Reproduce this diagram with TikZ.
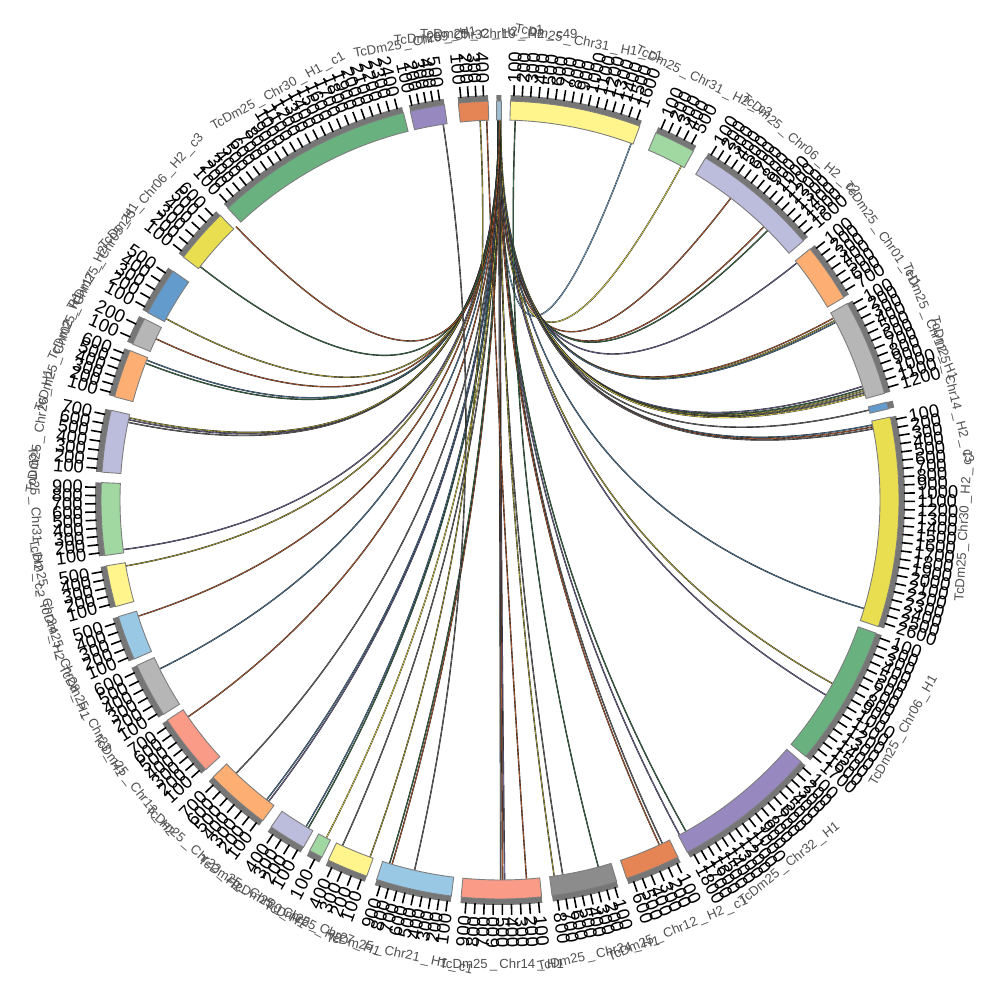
\documentclass[tikz,border=0pt]{standalone}
\usepackage{fontspec}
\setmainfont{Liberation Sans}
\usepackage{tikz}
\newcommand{\us}{\,\_\,}
\definecolor{yelL}{RGB}{255, 245, 140}
\definecolor{yelD}{RGB}{232, 222, 80}
\definecolor{grnL}{RGB}{161, 215, 160}
\definecolor{grnD}{RGB}{105, 178, 128}
\definecolor{lav}{RGB}{188, 188, 220}
\definecolor{pur}{RGB}{152, 136, 192}
\definecolor{oraL}{RGB}{253, 175, 115}
\definecolor{oraD}{RGB}{229, 132, 85}
\definecolor{gryL}{RGB}{182, 182, 182}
\definecolor{gryD}{RGB}{140, 140, 140}
\definecolor{blu}{RGB}{100, 155, 205}
\definecolor{bluL}{RGB}{152, 200, 228}
\definecolor{sal}{RGB}{250, 155, 135}
\definecolor{sliv}{RGB}{160, 190, 212}
\definecolor{gband}{RGB}{118, 118, 118}
\definecolor{gedge}{RGB}{125, 125, 125}
\definecolor{gtext}{RGB}{80, 80, 80}
\definecolor{lnkA}{RGB}{190, 95, 50}
\definecolor{lnkB}{RGB}{60, 115, 75}
\definecolor{lnkC}{RGB}{180, 170, 60}
\definecolor{lnkD}{RGB}{80, 125, 160}
\definecolor{lnkE}{RGB}{115, 105, 155}
\definecolor{lnkF}{RGB}{110, 110, 110}
\definecolor{lnkG}{RGB}{235, 222, 80}
\definecolor{lnkH}{RGB}{125, 175, 215}
\tikzstyle{ideo} = [draw=gedge, line width=0.5pt]
\tikzstyle{tickmark} = [draw=black, line width=0.9pt]
\tikzstyle{ticklabel} = [inner sep=0pt, text=black, font=\fontsize{10.5}{10.5}\selectfont]
\tikzstyle{secname} = [inner sep=0pt, text=gtext, font=\fontsize{7.5}{7.5}\selectfont]
\tikzstyle{lnk} = [draw=black!90, line width=0.22pt, double distance=0.35pt]

\begin{document}
\begin{tikzpicture}[x=0.02cm, y=0.02cm]
\useasboundingbox (-500,-500) rectangle (500,500);

% links ======================================
\foreach \pa/\pb/\lc in {69.8/90.2/lnkH, 61.5/90.0/lnkG, 52.6/90.3/lnkA, 46/90.1/lnkA, 45.2/89.9/lnkB,
  38.6/90.2/lnkE, 28.6/90.0/lnkA, 28.2/90.1/lnkC, 27.9/90.2/lnkD, 17.4/90.0/lnkE, 17.0/90.1/lnkB,
  16.7/90.2/lnkC, 16.4/90.3/lnkF, 16.1/89.9/lnkG, 13.7/90.1/lnkF, 11.4/90.0/lnkD, 11.1/90.2/lnkA,
  10.8/90.3/lnkF, -16.6/90.1/lnkD, -28.9/90.0/lnkC, -30.9/90.2/lnkE, -60.7/90.1/lnkB, -61.8/90.3/lnkE,
  -64.7/90.0/lnkF, -65.2/90.2/lnkA, -80.5/90.2/lnkF, -81.8/90.0/lnkC, -89.3/90.0/lnkE, -89.6/90.1/lnkA,
  -89.9/90.2/lnkF, -106.5/90.0/lnkA, -106.9/90.2/lnkB, -114.5/90.1/lnkF, -117.2/90.0/lnkG,
  -120.3/90.1/lnkB, -120.7/90.3/lnkD, -127.5/90.0/lnkE, -127.9/90.2/lnkD, -134.0/90.1/lnkF,
  -145.2/90.0/lnkA, -153.6/90.1/lnkD, -162.2/90.2/lnkA, -170.0/90.0/lnkC, 187.5/90.1/lnkE,
  168.2/90.0/lnkF, 167.8/90.2/lnkE, 167.5/90.1/lnkC, 158.9/90.0/lnkB, 158.4/90.2/lnkD,
  154.9/90.1/lnkA, 151.5/90.0/lnkC, 142.1/90.2/lnkB, 134.0/90.1/lnkA, 98.6/-103/lnkF,
  93.0/-110/lnkC, 92.0/-86/lnkA, 87.7/-75/lnkB}
  \draw[lnk, double=\lc] (\pa:380) .. controls (\pa:126.7) and (\pb:126.7) .. (\pb:380);

% sectors, ticks and names ===================
\foreach \s/\e/\col/\nt/\secn in {
  90.5/89.8/sliv/0/TcDm25\us Chr19\us H2\us c49,
  88.5/69.5/yelL/16/TcDm25\us Chr31\us H1\us c1,
  67/61/grnL/5/TcDm25\us Chr31\us H2\us c3,
  59/40.5/lav/16/TcDm25\us Chr06\us H2\us c2,
  39/30.5/oraL/7/TcDm25\us Chr01\us H1,
  29.5/15.5/gryL/12/TcDm25\us Chr12\us H1,
  14.2/13.2/blu/0/TcDm25\us Chr14\us H2\us c3,
  12/-18.5/yelD/26/TcDm25\us Chr30\us H2\us c1,
  -19.5/-40/grnD/17/TcDm25\us Chr06\us H1,
  -41/-62/pur/18/TcDm25\us Chr32\us H1,
  -63.5/-71.5/oraD/6/TcDm25\us Chr12\us H2\us c1,
  -73/-82.5/gryD/8/TcDm25\us Chr24\us H1,
  -84/-95.6/sal/9/TcDm25\us Chr14\us H1,
  -97/-108/bluL/9/TcDm25\us Chr21\us H1\us c1,
  -109.5/-115.5/yelL/4/TcDm25\us Chr27\us H1,
  -116.5/-118.5/grnL/1/TcDm25\us Chr25\us H2,
  -119.5/-125/lav/4/TcDm25\us Chr20\us H1,
  -126.5/-136/oraL/7/TcDm25\us Chr22\us H2,
  -137.5/-146.5/sal/7/TcDm25\us Chr13\us H2,
  -147.5/-155.5/gryL/6/TcDm25\us Chr23\us H1,
  -156.5/-163/bluL/5/TcDm25\us Chr28\us H1,
  -164.5/-170.5/yelL/5/TcDm25\us Chr24\us H2,
  188/177.5/grnL/9/TcDm25\us Chr31\us H2\us c2,
  176/167/lav/7/TcDm25\us Chr26\us H1,
  165/158/oraL/6/TcDm25\us Chr02\us H1,
  157/153/gryL/2/TcDm25\us Chr17\us H2,
  152/145/blu/5/TcDm25\us Chr05\us H1,
  142.5/134.5/yelD/6/TcDm25\us Chr06\us H2\us c3,
  133/104/grnD/24/TcDm25\us Chr30\us H1\us c1,
  103/98/pur/5/TcDm25\us Chr09\us H1,
  96/91.7/oraD/4/TcDm25\us Chr32\us H2\us c1}
{
  \fill[gband] (\s:399) arc[start angle=\s, end angle=\e, radius=399] -- (\e:405)
    arc[start angle=\e, end angle=\s, radius=405] -- cycle;
  \path[ideo, fill=\col] (\s:380) arc[start angle=\s, end angle=\e, radius=380] -- (\e:399)
    arc[start angle=\e, end angle=\s, radius=399] -- cycle;
  \ifnum\nt>0
  \foreach \k in {1,...,\nt}{
    \pgfmathsetmacro\ta{\s-(\k-0.6)*(\s-\e)/\nt}
    \pgfmathtruncatemacro\lab{100*\k}
    \pgfmathsetmacro\ct{cos(\ta)}
    \draw[tickmark] (\ta:404) -- (\ta:415);
    \ifdim\ct pt<0pt
      \node[ticklabel, anchor=east, rotate=\ta+180] at (\ta:417) {\lab};
    \else
      \node[ticklabel, anchor=west, rotate=\ta] at (\ta:417) {\lab};
    \fi
  }
  \fi
  \pgfmathsetmacro\md{(\s+\e)/2}
  \pgfmathsetmacro\sm{sin(\md)}
  \ifdim\sm pt>0pt
    \node[secname, rotate=\md-90] at (\md:465) {\secn};
  \else
    \node[secname, rotate=\md+90] at (\md:465) {\secn};
  \fi
}

\end{tikzpicture}
\end{document}
